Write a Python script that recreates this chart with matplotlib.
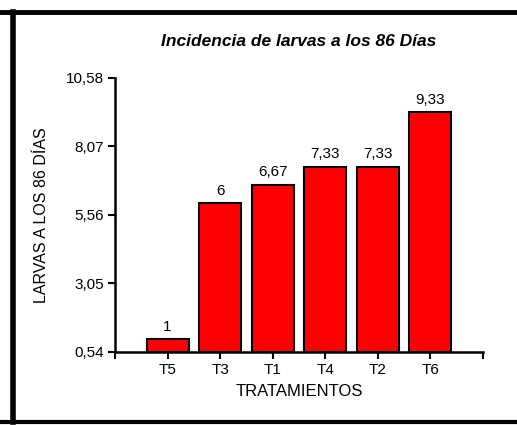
import matplotlib
matplotlib.use('Agg')
import matplotlib.pyplot as plt
from matplotlib.lines import Line2D

plt.rcParams['font.family'] = ['Liberation Sans', 'DejaVu Sans']

# data
tratamientos = ['T5', 'T3', 'T1', 'T4', 'T2', 'T6']
larvas = [1, 6, 6.67, 7.33, 7.33, 9.33]
yticks = [0.54, 3.05, 5.56, 8.07, 10.58]

fig = plt.figure(figsize=(5.17, 4.25), dpi=100)
ax = fig.add_axes([0.2224, 0.1718, 0.7118, 0.6447])

x = list(range(len(tratamientos)))
base = yticks[0]
ax.bar(x, [v - base for v in larvas], bottom=base, width=0.8,
       color='#ff0000', edgecolor='black', linewidth=1.5, zorder=3)

for xi, v in zip(x, larvas):
    txt = ('%g' % v).replace('.', ',')
    ax.text(xi, v + 0.2, txt, ha='center', va='bottom', fontsize=11)

ax.set_xlim(-1, len(tratamientos))
ax.set_ylim(yticks[0], yticks[-1])
ax.set_yticks(yticks)
ax.set_yticklabels([('%.2f' % t).replace('.', ',') for t in yticks])
ax.set_xticks(range(-1, len(tratamientos) + 1))
ax.set_xticklabels([''] + tratamientos + [''])
ax.tick_params(axis='both', direction='out', length=5, width=1.5, labelsize=11, pad=3)

for s in ['top', 'right']:
    ax.spines[s].set_visible(False)
for s in ['left', 'bottom']:
    ax.spines[s].set_linewidth(1.8)

ax.set_xlabel('TRATAMIENTOS', fontsize=12, labelpad=5)
ax.set_ylabel('LARVAS A LOS 86 DÍAS', fontsize=11.5, labelpad=12)
ax.set_title('Incidencia de larvas a los 86 Días', fontsize=12.5,
             fontweight='bold', fontstyle='italic', pad=23)

# outer frame
W, H = 517.0, 425.0
fig.add_artist(Line2D([0, 1], [1 - 12 / H, 1 - 12 / H], color='black', linewidth=3.5))
fig.add_artist(Line2D([0, 1], [1 - 422 / H, 1 - 422 / H], color='black', linewidth=3))
fig.add_artist(Line2D([13 / W, 13 / W], [1 - 422 / H, 1 - 12 / H], color='black', linewidth=4))

fig.savefig('out.png', dpi=100)
